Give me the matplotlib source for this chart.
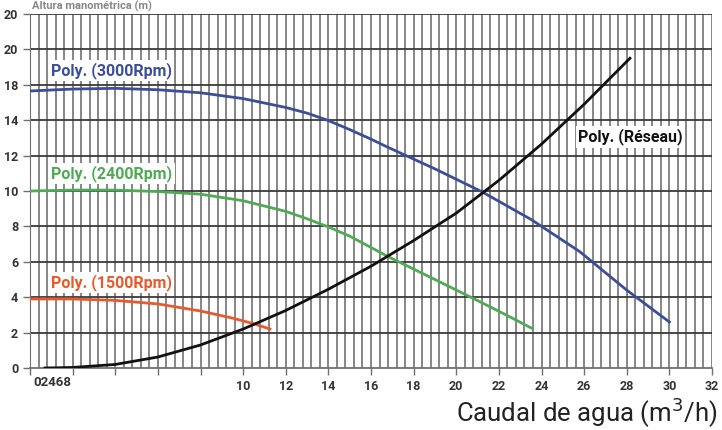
import matplotlib
matplotlib.use("Agg")
import matplotlib.pyplot as plt
import numpy as np

# ---- data (positional y units: gridlines 0..20 step 2) ----
ytick_pos = [0, 2, 4, 6, 8, 10, 12, 14, 16, 18, 20]
ytick_labels = ["0", "2", "4", "6", "8", "10", "12", "14", "18", "20", "20"]
xtick_pos = [0, 2, 4, 6, 8, 10, 12, 14, 16, 18, 20, 22, 24, 26, 28, 30, 32]
xtick_labels = ["", "", "", "", "", "10", "12", "14", "16", "18", "20", "22", "24", "26", "28", "30", "32"]

x3000 = [0, 2, 4, 6, 8, 10, 12, 13, 14, 15, 16, 16.74, 19, 21.2, 23.5, 25.8, 28, 30.0]
y3000 = [15.65, 15.76, 15.8, 15.72, 15.55, 15.22, 14.72, 14.4, 13.98, 13.47, 12.93, 12.5, 11.25, 9.96, 8.4, 6.57, 4.4, 2.6]

x2400 = [0, 2, 4, 6, 8, 10, 12, 13, 14, 15, 16.81, 19, 21.1, 22.5, 23.55]
y2400 = [10.0, 10.05, 10.05, 9.97, 9.82, 9.45, 8.85, 8.43, 7.97, 7.45, 6.29, 5.0, 3.75, 2.9, 2.24]

x1500 = [0, 2, 4, 6, 8, 9.5, 10.5, 11.26]
y1500 = [3.9, 3.9, 3.82, 3.62, 3.22, 2.82, 2.5, 2.2]

xres = [0.7, 2, 4, 6, 8, 10, 12, 14, 16, 18, 20, 22, 24, 26, 28.15]
yres = [0.0, 0.03, 0.2, 0.62, 1.3, 2.2, 3.25, 4.45, 5.75, 7.2, 8.75, 10.6, 12.65, 14.9, 17.5]

labels = ["Poly. (3000Rpm)", "Poly. (2400Rpm)", "Poly. (1500Rpm)", "Poly. (Réseau)"]

c_blue = "#3C4E98"
c_green = "#4FAA55"
c_orange = "#E85A2C"
c_black = "#111111"

fig = plt.figure(figsize=(7.22, 4.30), dpi=100)
ax = fig.add_axes([30/722, (430-368)/430, 682/722, 354/430])
ax.set_xlim(0, 32)
ax.set_ylim(0, 20)

# grid
for xv in np.arange(1, 81) * 0.4:
    ax.axvline(xv, color="#727272", lw=1.2, zorder=1)
for yv in ytick_pos[1:]:
    ax.axhline(yv, color="#3a3a3a", lw=1.3, zorder=1.5)

for s in ["top", "right"]:
    ax.spines[s].set_visible(False)
ax.spines["left"].set_color("#707070")
ax.spines["bottom"].set_color("#707070")
ax.spines["bottom"].set_linewidth(1.3)

ax.set_yticks(ytick_pos)
ax.set_yticklabels(ytick_labels)
ax.set_xticks(xtick_pos)
ax.set_xticklabels(xtick_labels)
ax.tick_params(axis="both", colors="#707070", length=5, width=1, labelsize=9, labelcolor="#333333")
for t in ax.get_xticklabels() + ax.get_yticklabels():
    t.set_fontweight("bold")
    t.set_family("Roboto")

ax.text(0.15, -0.45, "02468", fontsize=9.5, fontweight="bold", color="#333333",
        family="Roboto", ha="left", va="top")

# curves
ax.plot(x3000, y3000, color=c_blue, lw=2, zorder=3, solid_joinstyle="round")
ax.plot(x2400, y2400, color=c_green, lw=2, zorder=3, solid_joinstyle="round")
ax.plot(x1500, y1500, color=c_orange, lw=2, zorder=3, solid_joinstyle="round")
ax.plot(xres, yres, color=c_black, lw=2, zorder=3, solid_joinstyle="round")

bbox = dict(facecolor="white", edgecolor="none", pad=1.5)
fam = "Roboto"
fs = 11.5
ax.text(1.0, 16.8, labels[0], color=c_blue, fontsize=fs, fontweight="bold", family=fam,
        va="center", ha="left", bbox=bbox, zorder=4)
ax.text(1.0, 11.0, labels[1], color=c_green, fontsize=fs, fontweight="bold", family=fam,
        va="center", ha="left", bbox=bbox, zorder=4)
ax.text(1.0, 4.85, labels[2], color=c_orange, fontsize=fs, fontweight="bold", family=fam,
        va="center", ha="left", bbox=bbox, zorder=4)
ax.text(25.7, 13.05, labels[3], color=c_black, fontsize=fs, fontweight="bold", family=fam,
        va="center", ha="left", bbox=bbox, zorder=4)

fig.text(718/722, 1 - 413/430, "Caudal de agua (m$^3$/h)", fontsize=18.5, family="Roboto",
         color="#222222", ha="right", va="center")
fig.text(32/722, 1 - 1/430, "Altura manométrica (m)", fontsize=8, family="Roboto",
         color="#888888", ha="left", va="top", fontweight="bold")

fig.savefig("out.png", dpi=100)
